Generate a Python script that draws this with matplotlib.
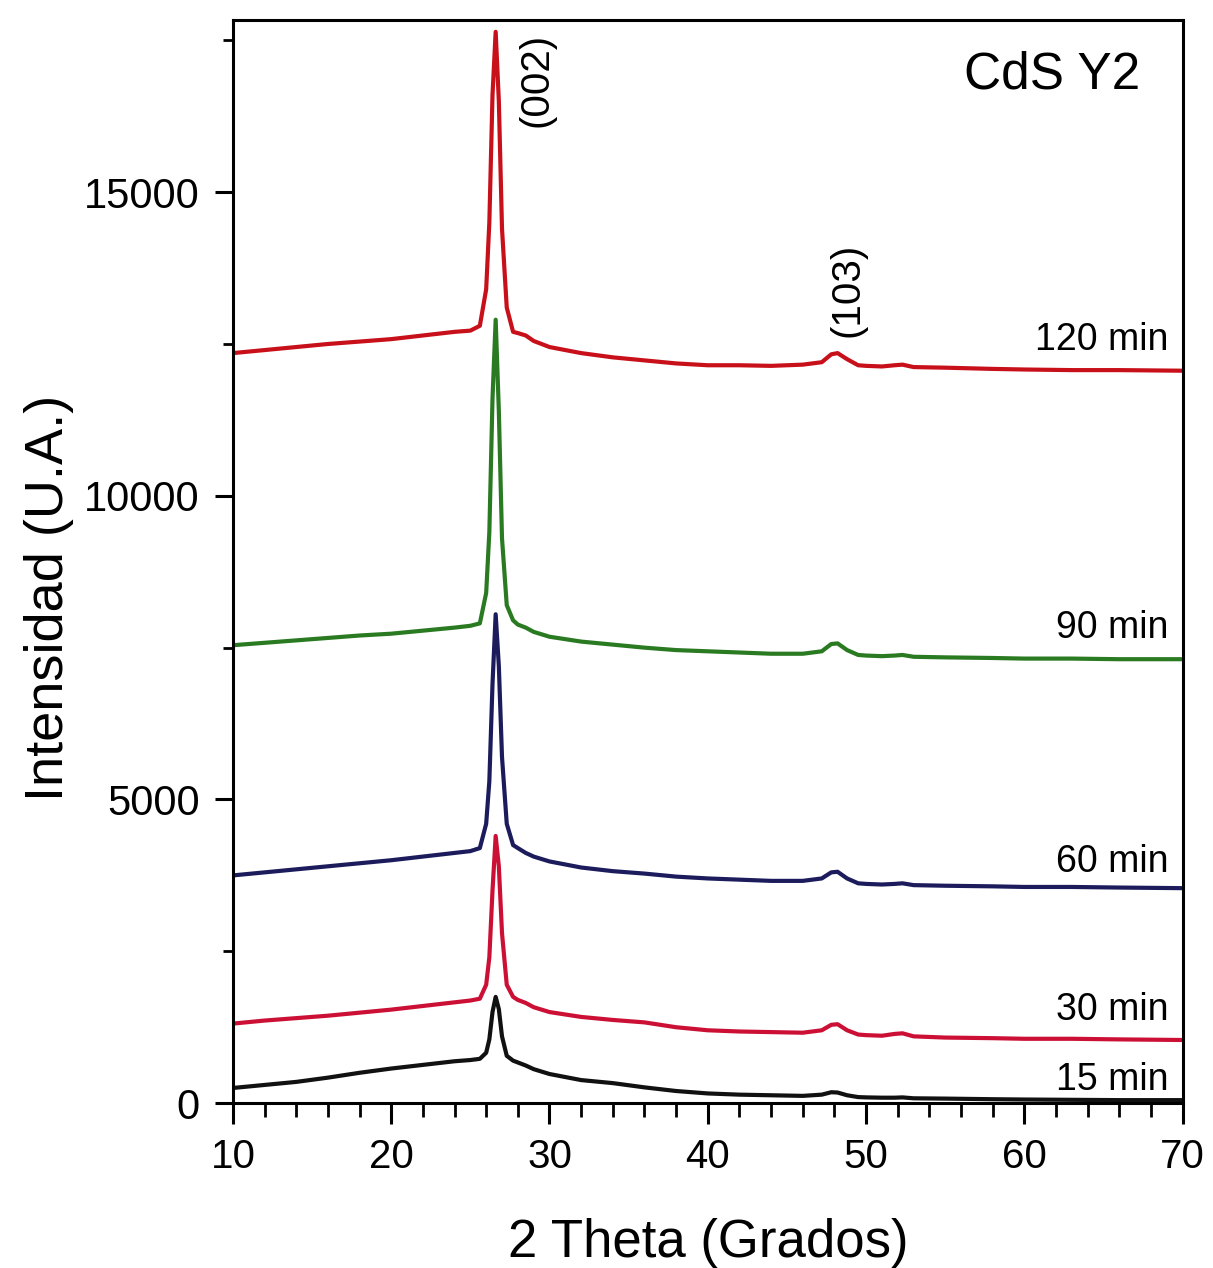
import numpy as np
import matplotlib
matplotlib.use('Agg')
import matplotlib.pyplot as plt
from matplotlib.ticker import MultipleLocator

plt.rcParams['font.family'] = ['Liberation Sans', 'DejaVu Sans']

# 2 Theta grid (degrees)
two_theta = [10, 12, 14, 16, 18, 20, 22, 24, 25, 25.6, 26.0, 26.2, 26.4, 26.6, 26.8,
             27.0, 27.3, 27.7, 28.0, 28.5, 29, 30, 32, 34, 36, 38, 40, 42, 44, 46,
             47.2, 47.8, 48.2, 48.8, 49.5, 50, 51, 51.8, 52.3, 53, 55, 58, 60, 63, 66, 70]

i_120 = [12350, 12400, 12450, 12500, 12540, 12580, 12640, 12700, 12720, 12800, 13400, 14500,
         16600, 17640, 16500, 14400, 13100, 12700, 12680, 12640, 12550, 12450, 12350, 12280,
         12230, 12180, 12150, 12150, 12140, 12160, 12200, 12330, 12350, 12250, 12150, 12140,
         12130, 12150, 12160, 12120, 12110, 12090, 12080, 12070, 12070, 12060]
i_90 = [7540, 7580, 7620, 7660, 7700, 7730, 7780, 7830, 7860, 7900, 8400, 9400,
        11600, 12900, 11400, 9300, 8200, 7950, 7880, 7830, 7760, 7680, 7600, 7550,
        7500, 7460, 7440, 7420, 7400, 7400, 7440, 7560, 7570, 7460, 7380, 7370,
        7360, 7370, 7380, 7350, 7340, 7330, 7320, 7320, 7310, 7310]
i_60 = [3750, 3800, 3850, 3900, 3950, 4000, 4060, 4120, 4150, 4200, 4600, 5300,
        6900, 8050, 7200, 5700, 4600, 4250, 4200, 4120, 4060, 3980, 3880, 3820,
        3780, 3730, 3700, 3680, 3660, 3660, 3700, 3800, 3810, 3700, 3620, 3610,
        3600, 3610, 3620, 3590, 3580, 3570, 3560, 3560, 3550, 3540]
i_30 = [1310, 1360, 1400, 1440, 1490, 1540, 1600, 1660, 1690, 1720, 1950, 2400,
        3500, 4400, 3900, 2800, 1950, 1750, 1700, 1650, 1580, 1500, 1420, 1370,
        1330, 1250, 1200, 1180, 1170, 1160, 1200, 1290, 1300, 1200, 1130, 1120,
        1110, 1140, 1150, 1100, 1080, 1070, 1060, 1060, 1050, 1040]
i_15 = [250, 300, 350, 420, 500, 570, 630, 690, 710, 730, 830, 1050,
        1500, 1750, 1550, 1100, 780, 700, 670, 620, 560, 480, 380, 330,
        260, 200, 160, 140, 130, 120, 140, 180, 175, 130, 100, 95,
        90, 90, 95, 80, 75, 65, 60, 55, 50, 50]

labels = ['120 min', '90 min', '60 min', '30 min', '15 min']
label_y = [12560, 7820, 3970, 1530, 380]
colors = ['#c8101a', '#2a7a22', '#1c1c5c', '#cc1035', '#111111']
series = [i_120, i_90, i_60, i_30, i_15]

fig = plt.figure(figsize=(12.13, 12.68), dpi=100)
ax = fig.add_axes([0.192, 0.130, 0.783, 0.854])

for y, c in zip(series, colors):
    ax.plot(two_theta, y, color=c, lw=3.0, solid_joinstyle='round')

for lab, yy in zip(labels, label_y):
    ax.text(69.1, yy, lab, ha='right', va='center', fontsize=27)

ax.text(29.2, 16845, '(002)', rotation=90, ha='center', va='center', fontsize=29)
ax.text(48.85, 13390, '(103)', rotation=90, ha='center', va='center', fontsize=29)
ax.text(67.3, 16930, 'CdS Y2', ha='right', va='center', fontsize=37)

ax.set_xlim(10, 70)
ax.set_ylim(0, 17830)
ax.xaxis.set_major_locator(MultipleLocator(10))
ax.xaxis.set_minor_locator(MultipleLocator(2))
ax.yaxis.set_major_locator(MultipleLocator(5000))
ax.yaxis.set_minor_locator(MultipleLocator(2500))
ax.tick_params(axis='x', which='major', direction='out', length=15, width=2.2, labelsize=29, pad=10)
ax.tick_params(axis='x', which='minor', direction='out', length=10, width=2.0)
ax.tick_params(axis='y', which='major', direction='out', length=13, width=2.2, labelsize=30, pad=11)
ax.tick_params(axis='y', which='minor', direction='out', length=7, width=2.0)
for s in ax.spines.values():
    s.set_linewidth(2.2)

ax.set_xlabel('2 Theta (Grados)', fontsize=38, labelpad=30)
ax.set_ylabel('Intensidad (U.A.)', fontsize=39)
ax.yaxis.set_label_coords(-0.167, 0.467)

fig.savefig('out.png', dpi=100)
